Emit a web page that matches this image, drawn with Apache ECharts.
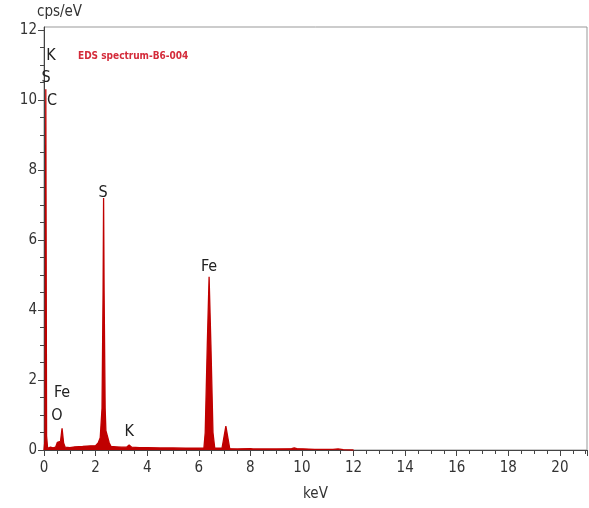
<!DOCTYPE html>
<html>
<head>
<meta charset="utf-8">
<script src="https://cdn.jsdelivr.net/npm/echarts@6/dist/echarts.min.js"></script>
<style>
  html, body { margin: 0; padding: 0; background: #fff; }
  #main { width: 589px; height: 508px; }
</style>
</head>
<body>
<div id="main"></div>
<script>
// spectrum points: [keV, cps/eV]
var energy = [0, 0.04, 0.07, 0.10, 0.14, 0.25, 0.30, 0.35, 0.45, 0.52, 0.58, 0.64, 0.70, 0.76, 0.82,
    1.0, 1.2, 1.5, 1.8, 2.0, 2.1, 2.18, 2.25, 2.29, 2.31, 2.33, 2.37, 2.40, 2.47, 2.53, 2.6, 2.8, 3.0, 3.2, 3.3, 3.4,
    3.7, 4.0, 4.5, 5.0, 5.5, 6.0, 6.2, 6.25, 6.33, 6.40, 6.47, 6.55, 6.62, 6.9, 6.96, 7.05, 7.14, 7.2,
    7.5, 8.0, 8.04, 8.1, 9.0, 9.6, 9.7, 9.8, 10.5, 11.2, 11.4, 11.6, 12];
var counts = [0, 0.3, 10.3, 0.4, 0.05, 0.08, 0.12, 0.06, 0.08, 0.22, 0.18, 0.25, 0.62, 0.2, 0.08,
    0.07, 0.09, 0.1, 0.12, 0.12, 0.2, 0.35, 1.2, 4.5, 7.2, 4.5, 1.2, 0.55, 0.55, 0.2, 0.1, 0.09, 0.08, 0.08, 0.14, 0.08,
    0.07, 0.07, 0.06, 0.06, 0.05, 0.05, 0.06, 0.5, 3.0, 4.95, 3.0, 0.5, 0.05, 0.05, 0.3, 0.68, 0.3, 0.04,
    0.03, 0.04, 0.06, 0.03, 0.03, 0.04, 0.06, 0.04, 0.02, 0.02, 0.03, 0.01, 0];

// element labels: text, keV, cps/eV
var peakNames = ['K', 'S', 'C', 'S', 'Fe', 'Fe', 'O', 'K'];
var peakX = [0.27, 0.08, 0.31, 2.29, 6.4, 0.7, 0.5, 3.3];
var peakY = [11.26, 10.63, 9.97, 7.34, 5.23, 1.63, 0.97, 0.51];

// y tick values
var yTicks = [0, 2, 4, 6, 8, 10, 12];

var spectrum = [];
for (var i = 0; i < energy.length; i++) {
    spectrum.push([energy[i], counts[i]]);
}
var marks = [];
for (var j = 0; j < peakNames.length; j++) {
    marks.push({ coord: [peakX[j], peakY[j]], value: peakNames[j] });
}

var labelFont = '"DejaVu Sans Condensed", sans-serif';
var myChart = echarts.init(document.getElementById('main'));
myChart.setOption({
    backgroundColor: '#fff',
    animation: false,
    title: {
        text: 'EDS spectrum-B6-004',
        left: 73,
        top: 46,
        textStyle: { color: '#d42b3a', fontSize: 10, fontWeight: 'bold', fontFamily: labelFont }
    },
    grid: {
        left: 44, right: 2, top: 27, bottom: 58,
        show: true,
        borderColor: '#999',
        borderWidth: 1
    },
    xAxis: {
        type: 'value',
        min: 0,
        max: 21.05,
        interval: 2,
        name: 'keV',
        nameLocation: 'middle',
        nameGap: 37,
        nameTextStyle: { color: '#333', fontSize: 15, fontFamily: labelFont },
        axisLine: { onZero: false, lineStyle: { color: '#444' } },
        axisTick: { show: true, inside: false, length: 6, lineStyle: { color: '#444' } },
        minorTick: { show: true, splitNumber: 4, length: 4, lineStyle: { color: '#444' } },
        axisLabel: { color: '#333', fontSize: 15, margin: 11, fontFamily: labelFont, showMaxLabel: false },
        splitLine: { show: false }
    },
    yAxis: {
        type: 'value',
        min: 0,
        max: 12.08,
        interval: 2,
        name: 'cps/eV',
        nameLocation: 'end',
        nameGap: 7,
        nameTextStyle: { color: '#333', fontSize: 15, fontFamily: labelFont, align: 'left', padding: [0, 0, 0, -7] },
        axisLine: { show: true, lineStyle: { color: '#444' } },
        axisTick: { show: true, inside: false, length: 6, customValues: yTicks, lineStyle: { color: '#444' } },
        minorTick: { show: true, splitNumber: 4, length: 4, lineStyle: { color: '#444' } },
        axisLabel: { color: '#333', fontSize: 15, margin: 7, fontFamily: labelFont, customValues: yTicks },
        splitLine: { show: false }
    },
    series: [{
        type: 'line',
        data: spectrum,
        showSymbol: false,
        smooth: false,
        lineStyle: { color: '#c00000', width: 1.3 },
        itemStyle: { color: '#c00000' },
        areaStyle: { color: '#c00000', opacity: 1 },
        markPoint: {
            symbol: 'circle',
            symbolSize: 1,
            itemStyle: { color: 'rgba(0,0,0,0)' },
            label: {
                show: true,
                position: 'inside',
                formatter: '{c}',
                color: '#222',
                fontSize: 16,
                fontFamily: labelFont
            },
            data: marks
        }
    }]
});
</script>
</body>
</html>
